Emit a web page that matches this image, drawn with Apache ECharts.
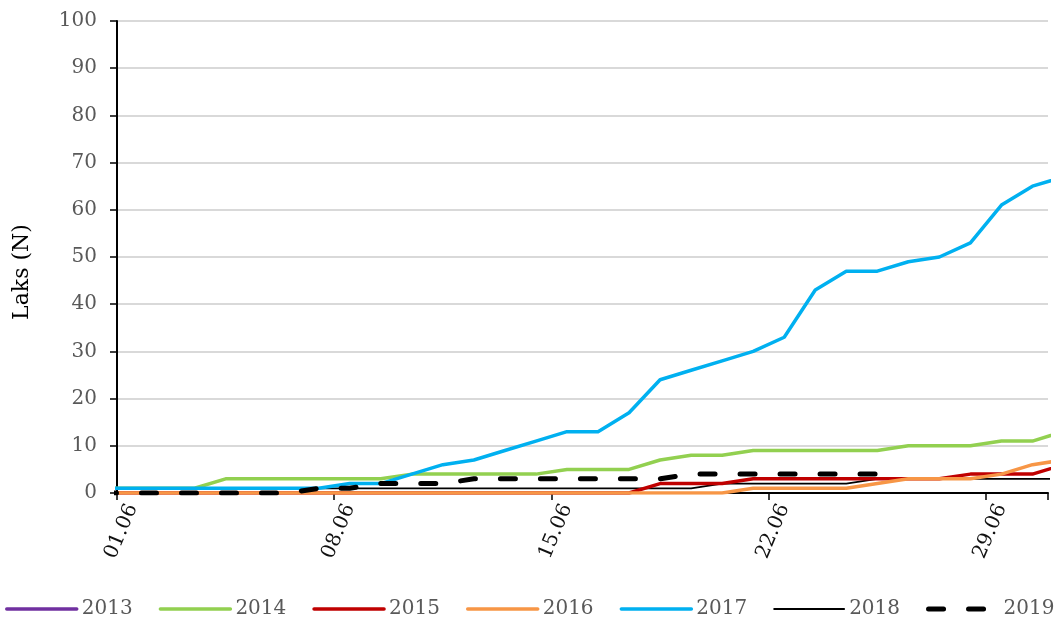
<!DOCTYPE html>
<html>
<head>
<meta charset="utf-8">
<script src="https://cdn.jsdelivr.net/npm/echarts@6/dist/echarts.min.js"></script>
<style>
  html, body { margin: 0; padding: 0; background: #fff; }
  #chart { width: 1056px; height: 621px; }
</style>
</head>
<body>
<div id="chart"></div>
<script>
// dates on the x axis; 31.05 and 01.07 lie just outside the visible range
const days = ['31.05','01.06','02.06','03.06','04.06','05.06','06.06','07.06','08.06','09.06','10.06',
  '11.06','12.06','13.06','14.06','15.06','16.06','17.06','18.06','19.06','20.06',
  '21.06','22.06','23.06','24.06','25.06','26.06','27.06','28.06','29.06','30.06','01.07']

// cumulative salmon counts per year, one value per day above
const y2013 = []
const y2014 = [1,1,1,1,3,3,3,3,3,3,4,4,4,4,4,5,5,5,7,8,8,9,9,9,9,9,10,10,10,11,11,13]
const y2015 = [0,0,0,0,0,0,0,0,0,0,0,0,0,0,0,0,0,0,2,2,2,3,3,3,3,3,3,3,4,4,4,6]
const y2016 = [0,0,0,0,0,0,0,0,0,0,0,0,0,0,0,0,0,0,0,0,0,1,1,1,1,2,3,3,3,4,6,7]
const y2017 = [1,1,1,1,1,1,1,1,2,2,4,6,7,9,11,13,13,17,24,26,28,30,33,43,47,47,49,50,53,61,65,67]
const y2018 = [1,1,1,1,1,1,1,1,1,1,1,1,1,1,1,1,1,1,1,1,2,2,2,2,2,3,3,3,3,3,3,3]
const y2019 = [0,0,0,0,0,0,0,1,1,2,2,2,3,3,3,3,3,3,3,4,4,4,4,4,4,4]

const yTicks = { min: 0, max: 100, step: 10 }

const font = 'DejaVu Serif'
const weekly = (idx) => idx >= 1 && (idx - 1) % 7 === 0
const chart = echarts.init(document.getElementById('chart'))

const line = (name, data, color, width, extra) => Object.assign({
  name, type: 'line', data,
  symbol: 'none', showSymbol: false,
  lineStyle: { color, width, cap: 'round', join: 'round' },
  itemStyle: { color },
  clip: true
}, extra || {})

chart.setOption({
  animation: false,
  grid: { left: 117, right: 8, top: 21, bottom: 128 },
  xAxis: {
    type: 'category',
    data: days,
    min: 1, max: 30,
    boundaryGap: true,
    axisLine: { lineStyle: { color: '#000', width: 2 } },
    axisTick: { show: true, interval: weekly, length: 7, inside: false, lineStyle: { color: '#000', width: 1.5 } },
    axisLabel: { interval: weekly, rotate: 67, margin: 12, color: '#111', fontFamily: font, fontSize: 20 },
    splitLine: { show: false }
  },
  yAxis: {
    type: 'value',
    min: yTicks.min, max: yTicks.max, interval: yTicks.step,
    name: 'Laks (N)',
    nameLocation: 'middle',
    nameGap: 84,
    nameRotate: 90,
    nameTextStyle: { color: '#000', fontFamily: font, fontSize: 22, padding: [0, 30, 0, 0] },
    axisLine: { show: true, lineStyle: { color: '#000', width: 2 } },
    axisTick: { show: true, length: 7, lineStyle: { color: '#000', width: 1.5 } },
    axisLabel: { color: '#595959', fontFamily: font, fontSize: 20, margin: 20 },
    splitLine: { lineStyle: { color: '#d9d9d9', width: 2 } }
  },
  legend: {
    left: 5, top: 599, padding: 0,
    itemWidth: 70, itemHeight: 14, itemGap: 26,
    itemStyle: { opacity: 0 },
    lineStyle: { width: 'inherit' },
    textStyle: { color: '#595959', fontFamily: font, fontSize: 20 },
    data: ['2013','2014','2015','2016','2017','2018','2019']
  },
  series: [
    line('2013', y2013, '#7030a0', 3.5),
    line('2014', y2014, '#92d050', 3.5),
    line('2015', y2015, '#c00000', 3.5),
    line('2016', y2016, '#f79646', 3.5),
    line('2017', y2017, '#00b0f0', 3.5, { z: 3 }),
    line('2018', y2018, '#000000', 1.8, { z: 2 }),
    line('2019', y2019, '#000000', 5, { z: 4, lineStyle: { color: '#000', width: 5, type: [15, 25], cap: 'round' } })
  ]
})
window.addEventListener('resize', () => chart.resize())
</script>
</body>
</html>
